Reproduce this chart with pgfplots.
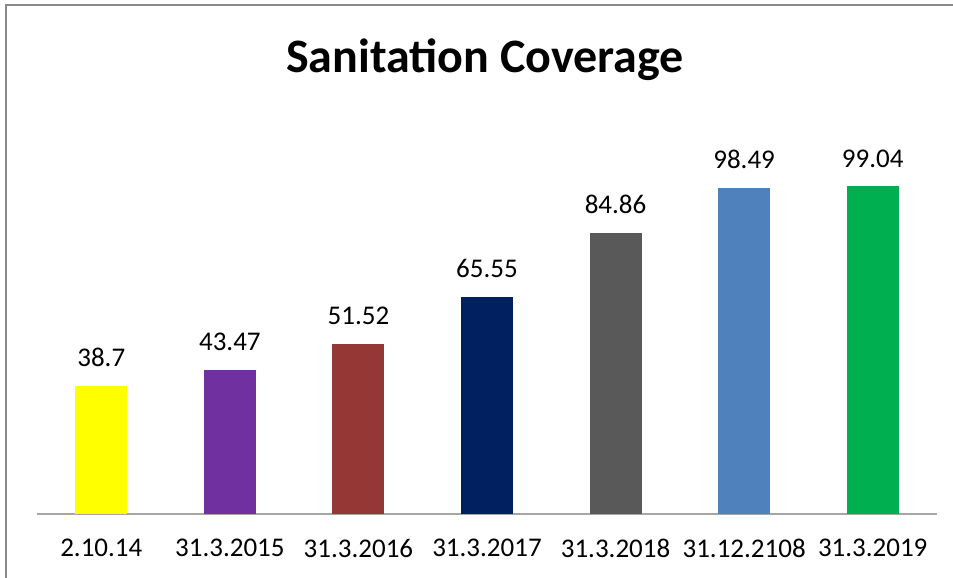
\documentclass[border=0pt]{standalone}
\usepackage{fontspec}
\setmainfont{Carlito}
\usepackage{pgfplots}
\pgfplotsset{compat=1.18}
\definecolor{c1}{HTML}{FFFF00}
\definecolor{c2}{HTML}{7030A0}
\definecolor{c3}{HTML}{953735}
\definecolor{c4}{HTML}{002060}
\definecolor{c5}{HTML}{595959}
\definecolor{c6}{HTML}{4F81BD}
\definecolor{c7}{HTML}{00B050}
\definecolor{framec}{HTML}{898989}
\definecolor{axc}{HTML}{A6A6A6}
\begin{document}
\begin{tikzpicture}
\useasboundingbox (-18.5pt,-32pt) rectangle (458pt,257pt);
\draw[color=framec, line width=1pt] (-15.5pt,-32pt) -- (-15.5pt,254.5pt) -- (458pt,254.5pt);
\node[font=\fontsize{24}{28}\selectfont\bfseries] at (224pt,227pt) {Sanitation Coverage};
\begin{axis}[
  at={(0,0)}, anchor=south west,
  scale only axis, width=450pt, height=198.5pt,
  xmin=-0.5, xmax=6.5, ymin=0, ymax=120,
  axis y line=none, axis x line*=bottom,
  x axis line style={draw=axc, line width=1pt, -},
  xtick={0,1,2,3,4,5,6},
  xticklabels={2.10.14,31.3.2015,31.3.2016,31.3.2017,31.3.2018,31.12.2108,31.3.2019},
  major tick length=0pt,
  xticklabel style={font=\fontsize{13.5}{16}\selectfont, yshift=-9pt},
  ybar, bar width=26pt, bar shift=0pt,
  /pgf/number format/assume math mode=true,
  nodes near coords,
  every node near coord/.append style={font=\fontsize{13.5}{16}\selectfont, yshift=6pt, text=black},
  clip=false,
]
\addplot[fill=c1, draw=none] coordinates {(0,38.7)};
\addplot[fill=c2, draw=none] coordinates {(1,43.47)};
\addplot[fill=c3, draw=none] coordinates {(2,51.52)};
\addplot[fill=c4, draw=none] coordinates {(3,65.55)};
\addplot[fill=c5, draw=none] coordinates {(4,84.86)};
\addplot[fill=c6, draw=none] coordinates {(5,98.49)};
\addplot[fill=c7, draw=none] coordinates {(6,99.04)};
\end{axis}
\end{tikzpicture}
\end{document}
